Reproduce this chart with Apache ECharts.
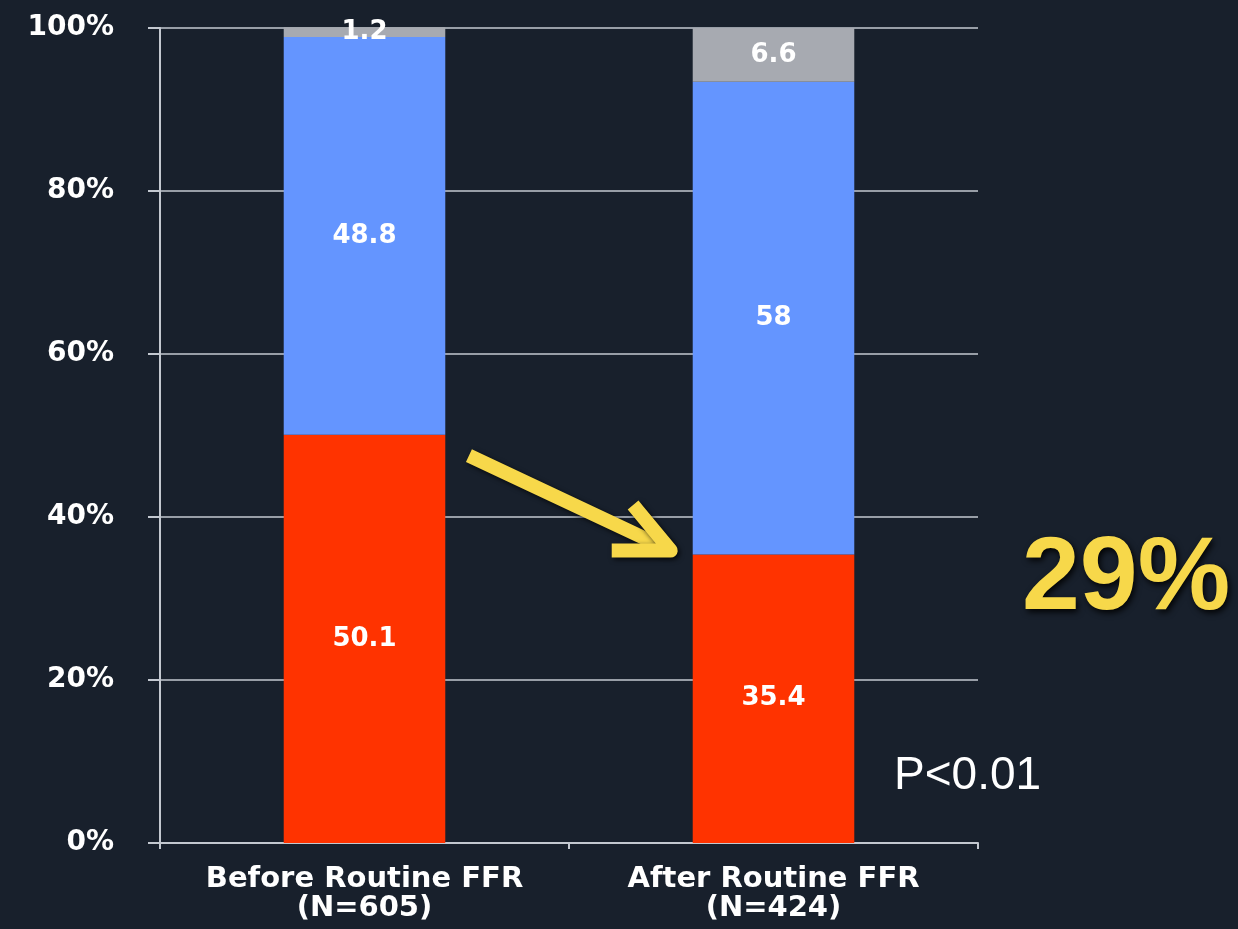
<!DOCTYPE html>
<html>
<head>
<meta charset="utf-8">
<title>FFR stacked bars</title>
<script src="https://cdn.jsdelivr.net/npm/echarts@6/dist/echarts.min.js"></script>
<style>
  html, body { margin: 0; padding: 0; background: #18202c; }
  #chart { width: 1238px; height: 929px; }
</style>
</head>
<body>
<div id="chart"></div>
<script>
// Categories and stacked shares (percent of patients)
const categories = ['Before Routine FFR\n(N=605)', 'After Routine FFR\n(N=424)'];
const redValues = [50.1, 35.4];
const blueValues = [48.8, 58];
const greyValues = [1.2, 6.6];
const yTickValues = [0, 20, 40, 60, 80, 100];
const pValueText = 'P<0.01';

const BG = '#18202c';
const RED = '#ff3300';
const BLUE = '#6495ff';
const GREY = '#a7aab1';
const YELLOW = '#f7d84a';
const LINE = '#c3c8d0';
const BAR_RATIO = 0.395;

const relativeDrop = Math.round((redValues[0] - redValues[1]) / redValues[0] * 100) + '%';

const chart = echarts.init(document.getElementById('chart'), null, { renderer: 'canvas' });

const valueLabel = {
  show: true,
  position: 'inside',
  color: '#ffffff',
  fontFamily: 'DejaVu Sans',
  fontWeight: 'bold',
  fontSize: 26
};

function segment(name, data, color) {
  return {
    name: name,
    type: 'bar',
    stack: 'share',
    data: data,
    barWidth: (BAR_RATIO * 100) + '%',
    itemStyle: { color: color },
    label: valueLabel,
    clip: false,
    z: 3
  };
}

const option = {
  backgroundColor: BG,
  animation: false,
  grid: { left: 160, right: 260, top: 28, bottom: 86, containLabel: false },
  xAxis: {
    type: 'category',
    data: categories,
    axisLine: { show: true, lineStyle: { color: LINE, width: 2 } },
    axisTick: { show: true, alignWithLabel: false, length: 6, lineStyle: { color: LINE, width: 2 } },
    axisLabel: {
      interval: 0,
      color: '#ffffff',
      fontFamily: 'DejaVu Sans',
      fontWeight: 'bold',
      fontSize: 29,
      lineHeight: 29,
      margin: 22
    }
  },
  yAxis: {
    type: 'value',
    min: yTickValues[0],
    max: yTickValues[yTickValues.length - 1],
    interval: yTickValues[1] - yTickValues[0],
    axisLine: { show: true, lineStyle: { color: LINE, width: 2 } },
    axisTick: { show: true, inside: false, length: 12, lineStyle: { color: LINE, width: 2 } },
    splitLine: { show: true, lineStyle: { color: LINE, width: 1.5 } },
    axisLabel: {
      formatter: '{value}%',
      color: '#ffffff',
      fontFamily: 'DejaVu Sans',
      fontWeight: 'bold',
      fontSize: 28,
      margin: 46
    }
  },
  series: [
    segment('Red', redValues, RED),
    segment('Blue', blueValues, BLUE),
    segment('Grey', greyValues, GREY)
  ]
};

chart.setOption(option);

// Annotation arrow from the first red segment top towards the second one
const p0 = chart.convertToPixel({ gridIndex: 0 }, [0, redValues[0]]);
const p1 = chart.convertToPixel({ gridIndex: 0 }, [1, redValues[1]]);
const band = p1[0] - p0[0];
const half = band * BAR_RATIO / 2;
const start = [p0[0] + half + 30, p0[1] + 24];
const tip = [p1[0] - half - 22, p1[1] - 4];
const dx = start[0] - tip[0], dy = start[1] - tip[1];
const len = Math.sqrt(dx * dx + dy * dy);
const ux = dx / len, uy = dy / len;
function rotate(ang, l) {
  const c = Math.cos(ang), s = Math.sin(ang);
  return [tip[0] + (ux * c - uy * s) * l, tip[1] + (ux * s + uy * c) * l];
}
const wingA = rotate(0.44, 52);
const wingB = rotate(-0.44, 52);
const shaftEnd = [tip[0] + ux * 10, tip[1] + uy * 10];

const arrowStyle = {
  stroke: YELLOW,
  lineWidth: 14,
  fill: null,
  lineJoin: 'round',
  lineCap: 'square',
  shadowBlur: 5,
  shadowColor: 'rgba(0,0,0,0.75)',
  shadowOffsetX: 2,
  shadowOffsetY: 2
};

chart.setOption({
  graphic: [
    {
      type: 'line',
      z: 10,
      shape: { x1: start[0], y1: start[1], x2: shaftEnd[0], y2: shaftEnd[1] },
      style: arrowStyle
    },
    {
      type: 'polyline',
      z: 10,
      shape: { points: [wingA, tip, wingB] },
      style: arrowStyle
    },
    {
      type: 'text',
      z: 10,
      left: 1022,
      top: 528,
      style: {
        text: relativeDrop,
        fill: YELLOW,
        font: 'bold 104px "Liberation Sans", Arial, sans-serif',
        textShadowBlur: 6,
        textShadowColor: 'rgba(0,0,0,0.9)',
        textShadowOffsetX: 2,
        textShadowOffsetY: 3
      }
    },
    {
      type: 'text',
      z: 10,
      left: 894,
      top: 753,
      style: {
        text: pValueText,
        fill: '#ffffff',
        font: '46px "Liberation Sans", Arial, sans-serif'
      }
    }
  ]
});
</script>
</body>
</html>
